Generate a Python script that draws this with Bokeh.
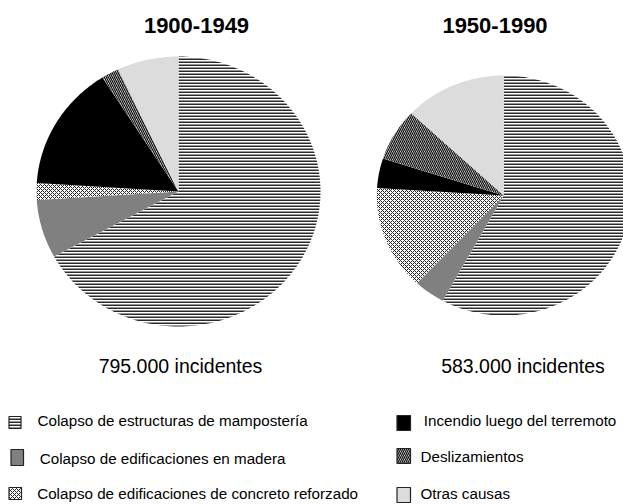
import numpy as np
from bokeh.plotting import figure
from bokeh.models import Range1d
from bokeh.core.properties import value
from bokeh.embed import file_html
from bokeh.resources import INLINE

# ---------------- data ----------------
categories = [
    "Colapso de estructuras de mampostería",
    "Colapso de edificaciones en madera",
    "Colapso de edificaciones de concreto reforzado",
    "Incendio luego del terremoto",
    "Deslizamientos",
    "Otras causas",
]
share_1900_1949 = [67, 7, 2, 15, 2, 7]
share_1950_1990 = [58, 4, 14, 4, 7, 13]
periods = ["1900-1949", "1950-1990"]
incidents = ["795.000 incidentes", "583.000 incidentes"]

# ---------------- styles ----------------
slice_styles = [
    dict(fill_color="white", hatch_pattern="horizontal_line", hatch_color="#2a2a2a",
         hatch_scale=3, hatch_weight=2),
    dict(fill_color="#808080"),
    dict(fill_color="white", hatch_pattern="x", hatch_color="#222222",
         hatch_scale=4, hatch_weight=1.0),
    dict(fill_color="black"),
    dict(fill_color="white", hatch_pattern="left_diagonal_line", hatch_color="#111111",
         hatch_scale=4, hatch_weight=1.3),
    dict(fill_color="#dcdcdc"),
]

W, H = 623, 504
p = figure(width=W, height=H, output_backend="svg", toolbar_location=None,
           x_range=Range1d(0, W), y_range=Range1d(H, 0), min_border=0)
p.axis.visible = False
p.grid.visible = False
p.outline_line_color = None
p.background_fill_color = "white"

# pie layout: (cx, cy, rx, ry, title_x, count_x)
pies = [
    (178.0, 191.0, 142.0, 135.0, 196.0, 180.0),
    (503.3, 195.0, 127.0, 120.0, 494.5, 522.5),
]
series = [share_1900_1949, share_1950_1990]

for (cx, cy, rx, ry, tx, nx), shares, period, inc in zip(pies, series, periods, incidents):
    total = float(sum(shares))
    cum = np.concatenate([[0.0], np.cumsum(shares)]) / total
    for i, st in enumerate(slice_styles):
        a0 = np.pi / 2 - cum[i] * 2 * np.pi
        a1 = np.pi / 2 - cum[i + 1] * 2 * np.pi
        n = max(4, int(abs(a1 - a0) * 80))
        ang = np.linspace(a0, a1, n)
        xs = np.concatenate([[cx], cx + rx * np.cos(ang), [cx]])
        ys = np.concatenate([[cy], cy - ry * np.sin(ang), [cy]])
        p.patch(xs, ys, line_color=None, **st)
    p.text(x=[tx], y=[24.5], text=[period], text_font=value("Liberation Sans"),
           text_font_size="22px", text_font_style="bold", text_align="center",
           text_baseline="alphabetic", text_color="black")
    p.text(x=[nx], y=[365.8], text=[inc], text_font=value("Liberation Sans"),
           text_font_size="19.5px", text_align="center",
           text_baseline="alphabetic", text_color="black")

# legend layout: (marker left, right, top, bottom, text x, text baseline)
legend_pos = [
    (8.5, 20.5, 416.0, 428.0, 37.0, 420.0),
    (10.5, 23.0, 449.0, 465.0, 39.3, 457.5),
    (8.5, 21.0, 487.0, 499.0, 36.7, 492.5),
    (396.5, 410.0, 415.0, 430.0, 423.3, 419.7),
    (396.5, 410.0, 448.0, 463.0, 420.0, 456.3),
    (396.5, 410.0, 487.0, 502.0, 420.0, 493.0),
]
for cat, st, (l, r, t, b, lx, ly) in zip(categories, slice_styles, legend_pos):
    p.quad(left=[l], right=[r], top=[t], bottom=[b], line_color="#222222",
           line_width=1.2, **st)
    p.text(x=[lx], y=[ly], text=[cat], text_font=value("Liberation Sans"),
           text_font_size="15.2px", text_align="left", text_baseline="alphabetic",
           text_color="black")

open("out.html", "w").write(file_html(p, INLINE))
